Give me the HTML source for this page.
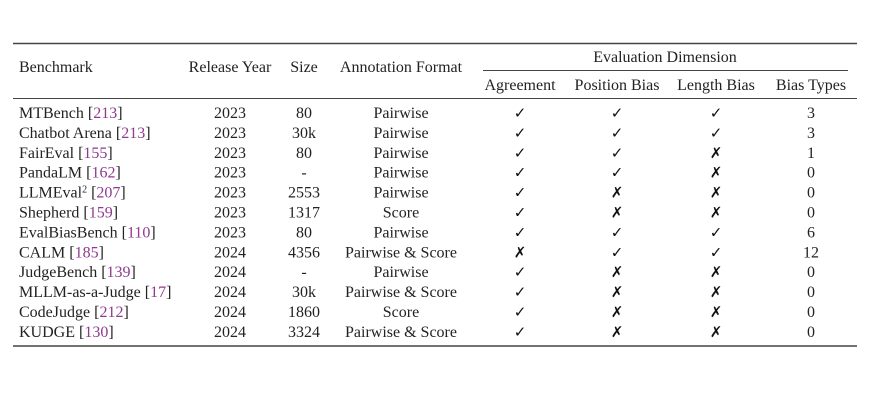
<!DOCTYPE html>
<html><head><meta charset="utf-8"><style>
html,body{margin:0;padding:0;background:#fff;}
svg{display:block;}
text{font-family:"Liberation Serif","DejaVu Serif",serif;font-size:16px;fill:#222;}
.r{fill:#8e3a8e;}
.m{text-anchor:middle;}
</style></head><body>
<svg width="870" height="400" viewBox="0 0 870 400">
<line x1="13" y1="43.5" x2="857" y2="43.5" stroke="#444" stroke-width="1.6"/>
<line x1="483" y1="70.5" x2="848" y2="70.5" stroke="#444" stroke-width="1"/>
<line x1="13" y1="98.5" x2="857" y2="98.5" stroke="#444" stroke-width="1"/>
<line x1="13" y1="346" x2="857" y2="346" stroke="#444" stroke-width="1.6"/>
<text x="19" y="72">Benchmark</text>
<text x="230" y="72" class="m">Release Year</text>
<text x="304" y="72" class="m">Size</text>
<text x="401" y="72" class="m">Annotation Format</text>
<text x="665" y="62" class="m">Evaluation Dimension</text>
<text x="520" y="90" class="m">Agreement</text>
<text x="617" y="90" class="m">Position Bias</text>
<text x="716" y="90" class="m">Length Bias</text>
<text x="811" y="90" class="m">Bias Types</text>
<g id="rows"></g>
</svg>
<script>
var d=[
["MTBench","213","2023","80","Pairwise",1,1,1,"3"],
["Chatbot Arena","213","2023","30k","Pairwise",1,1,1,"3"],
["FairEval","155","2023","80","Pairwise",1,1,0,"1"],
["PandaLM","162","2023","-","Pairwise",1,1,0,"0"],
["LLMEval2","207","2023","2553","Pairwise",1,0,0,"0"],
["Shepherd","159","2023","1317","Score",1,0,0,"0"],
["EvalBiasBench","110","2023","80","Pairwise",1,1,1,"6"],
["CALM","185","2024","4356","Pairwise &amp; Score",0,1,1,"12"],
["JudgeBench","139","2024","-","Pairwise",1,0,0,"0"],
["MLLM-as-a-Judge","17","2024","30k","Pairwise &amp; Score",1,0,0,"0"],
["CodeJudge","212","2024","1860","Score",1,0,0,"0"],
["KUDGE","130","2024","3324","Pairwise &amp; Score",1,0,0,"0"]];
var s="";
d.forEach(function(r,i){
 var y=(113+i*19.9+5).toFixed(1);
 var name=r[0]=="LLMEval2"?'LLMEval<tspan dy="-5" font-size="10">2</tspan><tspan dy="5"> [</tspan>':r[0]+' [';
 s+='<text x="19" y="'+y+'">'+name+'<tspan class="r">'+r[1]+'</tspan>]</text>';
 s+='<text x="230" y="'+y+'" class="m">'+r[2]+'</text>';
 s+='<text x="304" y="'+y+'" class="m">'+r[3]+'</text>';
 s+='<text x="401" y="'+y+'" class="m">'+r[4]+'</text>';
 [520,617,716].forEach(function(x,j){
  s+='<text x="'+x+'" y="'+y+'" class="m" style="font-family:\'DejaVu Sans\',sans-serif;font-size:15px;font-weight:bold;fill:#111">'+(r[5+j]?'✓':'✗')+'</text>';
 });
 s+='<text x="811" y="'+y+'" class="m">'+r[8]+'</text>';
});
document.getElementById('rows').innerHTML=s;
</script>
</body></html>
